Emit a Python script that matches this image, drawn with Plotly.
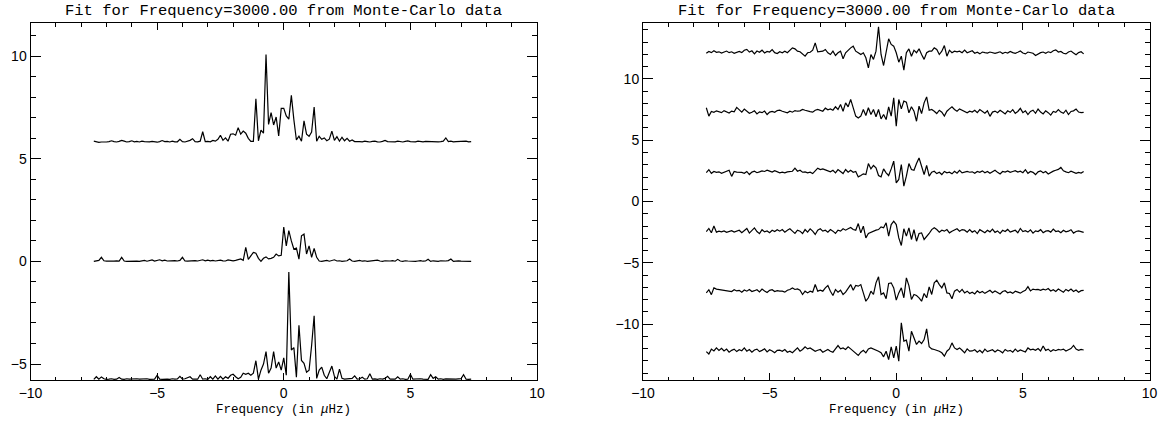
import plotly.graph_objects as go

# frequency grid (muHz)
freq = [round(-7.5 + 0.1 * k, 1) for k in range(150)]

left_top = [
    5.86, 5.83, 5.80, 5.82, 5.81, 5.82, 5.84, 5.88, 5.84, 5.82,
    5.85, 5.90, 5.86, 5.82, 5.84, 5.88, 5.83, 5.85, 5.82, 5.86,
    5.84, 5.82, 5.83, 5.85, 5.82, 5.81, 5.84, 5.89, 5.84, 5.85,
    5.82, 5.86, 5.83, 5.83, 5.95, 5.84, 5.82, 5.85, 5.90, 5.98,
    5.84, 5.83, 5.86, 6.32, 5.84, 5.85, 5.83, 5.90, 5.86, 5.95,
    6.15, 5.90, 6.02, 5.86, 6.20, 6.22, 6.15, 6.52, 6.20, 6.35,
    6.25, 6.00, 5.85, 5.85, 7.92, 5.88, 6.40, 6.25, 10.08, 6.68,
    7.25, 6.65, 7.04, 6.12, 7.46, 7.46, 7.09, 6.93, 8.09, 6.90,
    5.92, 6.10, 5.86, 6.85, 6.20, 6.10, 6.30, 7.52, 5.86, 6.10,
    5.95, 6.02, 5.88, 5.96, 6.35, 5.90, 6.08, 5.86, 6.05, 5.88,
    6.00, 5.86, 5.92, 5.84, 5.85, 5.84, 5.83, 5.86, 5.84, 5.82,
    5.85, 5.86, 5.83, 5.82, 5.85, 5.90, 5.84, 5.83, 5.82, 5.83,
    5.86, 5.84, 5.82, 5.85, 5.87, 5.84, 5.82, 5.83, 5.86, 5.84,
    5.83, 5.85, 5.84, 5.86, 5.82, 5.84, 5.83, 5.84, 5.86, 6.02,
    5.84, 5.86, 5.83, 5.84, 5.85, 5.83, 5.84, 5.86, 5.83, 5.84,
]

left_mid = [
    0.00, 0.02, 0.05, 0.20, 0.03, 0.01, 0.00, 0.02, 0.01, 0.03,
    0.02, 0.20, 0.02, 0.00, 0.01, 0.00, 0.02, 0.01, 0.00, 0.03,
    0.05, 0.01, 0.03, 0.07, 0.02, 0.05, 0.08, 0.03, 0.06, 0.02,
    0.03, 0.01, 0.04, 0.02, 0.05, 0.20, 0.02, 0.01, 0.03, 0.02,
    0.04, 0.02, 0.05, 0.08, 0.03, 0.06, 0.03, 0.05, 0.02, 0.04,
    0.06, 0.03, 0.02, 0.07, 0.05, 0.03, 0.05, 0.07, 0.12, 0.05,
    0.69, 0.10, 0.30, 0.44, 0.40, 0.15, 0.00, 0.15, 0.22, 0.12,
    0.15, 0.20, 0.36, 0.27, 0.30, 1.67, 0.76, 1.50, 1.00, 0.60,
    0.65, 0.11, 1.25, 1.33, 0.36, 0.76, 0.20, 0.63, 0.20, 0.02,
    0.00, 0.02, 0.05, 0.01, 0.03, 0.08, 0.02, 0.03, 0.00, 0.01,
    0.03, 0.12, 0.02, 0.00, 0.02, 0.05, 0.01, 0.03, 0.00, 0.02,
    0.01, 0.03, 0.06, 0.02, 0.00, 0.03, 0.01, 0.02, 0.04, 0.01,
    0.10, 0.02, 0.00, 0.03, 0.02, 0.01, 0.03, 0.00, 0.02, 0.04,
    0.01, 0.02, 0.10, 0.00, 0.03, 0.02, 0.00, 0.03, 0.01, 0.02,
    0.04, 0.12, 0.00, 0.02, 0.03, 0.01, 0.00, 0.02, 0.01, 0.00,
]

left_bot = [
    -5.75, -5.62, -5.74, -5.63, -5.72, -5.75, -5.74, -5.72, -5.75, -5.74,
    -5.66, -5.74, -5.75, -5.72, -5.74, -5.73, -5.75, -5.72, -5.74, -5.73,
    -5.74, -5.72, -5.75, -5.73, -5.74, -5.55, -5.74, -5.75, -5.73, -5.74,
    -5.75, -5.72, -5.74, -5.73, -5.60, -5.74, -5.72, -5.65, -5.62, -5.74,
    -5.73, -5.74, -5.52, -5.74, -5.72, -5.75, -5.62, -5.74, -5.58, -5.74,
    -5.60, -5.74, -5.62, -5.70, -5.55, -5.50, -5.62, -5.72, -5.65, -5.45,
    -5.50, -5.45, -5.55, -5.45, -4.84, -5.74, -5.30, -5.00, -4.40, -5.45,
    -5.20, -4.40, -5.20, -4.90, -5.30, -4.70, -5.55, -0.52, -4.32, -4.20,
    -5.64, -3.11, -4.83, -4.97, -5.40, -5.30, -4.10, -2.65, -5.70, -5.30,
    -5.15, -5.55, -5.72, -5.40, -5.10, -5.60, -5.74, -5.25, -5.70, -5.74,
    -5.73, -5.74, -5.70, -5.58, -5.74, -5.72, -5.65, -5.74, -5.72, -5.48,
    -5.74, -5.73, -5.75, -5.72, -5.74, -5.70, -5.60, -5.74, -5.73, -5.74,
    -5.62, -5.74, -5.72, -5.75, -5.74, -5.50, -5.74, -5.73, -5.75, -5.72,
    -5.74, -5.73, -5.75, -5.52, -5.70, -5.62, -5.74, -5.72, -5.75, -5.73,
    -5.74, -5.72, -5.75, -5.74, -5.73, -5.72, -5.52, -5.74, -5.75, -5.74,
]

right_1 = [
    12.10, 12.25, 12.15, 12.30, 12.18, 12.22, 12.12, 12.20, 12.28, 12.15,
    12.22, 12.10, 12.18, 12.25, 12.15, 12.35, 12.42, 12.20, 12.30, 12.05,
    12.28, 12.18, 12.35, 12.12, 12.25, 12.20, 12.40, 12.15, 12.08, 12.22,
    12.14, 12.27, 12.14, 12.35, 12.54, 12.46, 12.27, 12.22, 12.00, 11.86,
    12.14, 12.18, 12.35, 12.95, 12.22, 12.22, 12.27, 12.41, 12.14, 12.00,
    12.27, 11.92, 12.14, 12.27, 11.65, 12.14, 12.35, 12.54, 12.68, 12.27,
    12.14, 12.00, 12.14, 11.73, 10.91, 12.00, 11.60, 12.27, 14.26, 12.00,
    11.10, 12.14, 13.28, 12.82, 12.68, 12.14, 11.37, 11.86, 10.72, 12.14,
    12.46, 11.86, 12.35, 12.14, 12.46, 12.00, 11.60, 12.14, 12.27, 12.27,
    12.54, 12.41, 12.00, 12.27, 12.73, 11.86, 12.35, 12.14, 12.27, 12.22,
    12.27, 12.14, 12.35, 12.14, 12.22, 12.30, 12.10, 12.18, 12.05, 12.20,
    12.15, 12.12, 12.20, 12.18, 12.10, 12.15, 12.22, 12.08, 12.18, 12.12,
    12.25, 12.15, 12.10, 12.18, 12.28, 12.12, 12.05, 12.20, 12.15, 12.10,
    11.92, 12.05, 12.15, 12.20, 12.10, 12.22, 12.15, 12.30, 12.38, 12.20,
    12.25, 12.10, 12.05, 12.20, 12.28, 12.12, 11.98, 12.15, 12.22, 12.05,
]

right_2 = [
    7.65, 6.97, 7.35, 7.28, 7.40, 7.35, 7.25, 7.42, 7.30, 7.22,
    7.38, 7.32, 7.68, 7.45, 7.30, 7.55, 7.35, 7.20, 7.28, 7.40,
    7.15, 7.32, 7.25, 7.38, 7.10, 7.30, 7.35, 7.28, 7.42, 7.45,
    7.37, 7.29, 7.24, 7.37, 7.29, 7.42, 7.37, 7.40, 7.51, 7.45,
    7.37, 7.34, 7.29, 7.45, 7.51, 7.45, 7.37, 7.62, 7.48, 7.56,
    7.45, 7.73, 7.51, 7.92, 7.37, 8.05, 7.73, 8.33, 7.73, 6.97,
    6.82, 6.97, 7.51, 7.02, 7.65, 7.10, 7.51, 6.92, 7.51, 6.74,
    7.10, 6.69, 7.73, 6.97, 8.46, 6.15, 8.33, 7.56, 8.19, 8.11,
    7.24, 7.73, 7.37, 6.55, 7.78, 7.18, 8.05, 8.54, 7.45, 7.51,
    7.37, 7.18, 7.45, 7.29, 6.97, 7.37, 7.56, 7.73, 7.51, 7.37,
    7.56, 7.45, 7.37, 7.24, 7.37, 7.30, 7.45, 7.25, 7.50, 7.35,
    7.20, 7.40, 6.95, 7.30, 7.38, 7.25, 7.45, 7.30, 7.15, 7.40,
    7.28, 7.50, 7.20, 7.35, 7.60, 7.25, 7.40, 7.10, 7.35, 7.45,
    7.20, 7.55, 7.30, 7.15, 7.40, 7.25, 7.05, 7.35, 7.28, 7.50,
    7.30, 7.20, 7.45, 7.10, 7.35, 7.40, 7.55, 7.30, 7.25, 7.28,
]

right_3 = [
    2.35, 2.60, 2.30, 2.45, 2.38, 2.42, 2.30, 2.40, 2.50, 2.55,
    2.05, 2.45, 2.40, 2.42, 2.38, 2.30, 2.45, 2.20, 2.40, 2.48,
    2.35, 2.42, 2.50, 2.45, 2.55, 2.48, 2.40, 2.52, 2.45, 2.34,
    2.39, 2.34, 2.42, 2.45, 2.47, 2.72, 2.47, 2.55, 2.39, 2.42,
    2.34, 2.39, 2.28, 2.50, 2.72, 2.61, 2.66, 2.58, 2.47, 2.42,
    2.55, 2.34, 2.61, 2.42, 2.28, 2.61, 2.39, 2.55, 2.39, 2.45,
    2.01, 2.12, 2.26, 2.20, 3.10, 2.66, 2.94, 2.75, 2.12, 2.01,
    2.66, 2.34, 2.12, 2.66, 3.29, 1.52, 1.80, 3.02, 1.25, 2.07,
    3.10, 2.61, 2.55, 3.10, 3.56, 2.88, 2.20, 2.94, 2.07, 2.39,
    2.47, 2.28, 2.39, 2.20, 2.45, 2.34, 2.39, 2.26, 2.47, 2.31,
    2.55, 2.34, 2.39, 2.45, 2.39, 2.42, 2.30, 2.45, 2.38, 2.50,
    2.35, 2.45, 2.30, 2.42, 2.55, 2.38, 2.25, 2.45, 2.40, 2.50,
    2.38, 2.45, 2.52, 2.40, 2.48, 2.35, 2.60, 2.30, 2.45, 2.38,
    2.20, 2.42, 2.50, 2.35, 2.45, 2.25, 2.40, 2.48, 2.55, 2.62,
    2.78, 2.50, 2.42, 2.35, 2.48, 2.40, 2.30, 2.38, 2.32, 2.45,
]

right_4 = [
    -2.45, -2.20, -2.55, -2.00, -2.50, -2.42, -2.48, -2.40, -2.52, -2.45,
    -2.38, -2.50, -2.42, -2.35, -2.55, -2.40, -2.20, -2.58, -2.35, -2.15,
    -2.45, -2.62, -2.30, -2.48, -2.40, -2.55, -2.35, -2.45, -2.30, -2.42,
    -2.29, -2.50, -2.34, -2.23, -2.42, -2.61, -2.34, -2.42, -2.61, -2.29,
    -2.50, -2.23, -2.42, -2.69, -2.34, -2.23, -2.42, -2.34, -2.50, -2.29,
    -2.42, -2.61, -2.34, -2.42, -2.23, -2.34, -2.23, -2.12, -2.29, -2.34,
    -1.80, -2.56, -2.01, -2.97, -2.61, -2.50, -2.42, -2.34, -2.29, -2.07,
    -2.15, -1.74, -2.83, -1.88, -1.61, -1.88, -2.97, -3.59, -2.23, -2.83,
    -2.15, -3.10, -2.29, -3.24, -2.61, -2.56, -3.10, -2.88, -2.61, -2.29,
    -2.15, -2.29, -2.50, -2.34, -2.42, -2.29, -2.56, -2.42, -2.34, -2.23,
    -2.42, -2.29, -2.34, -2.50, -2.29, -2.50, -2.38, -2.62, -2.30, -2.45,
    -2.55, -2.35, -2.48, -2.25, -2.52, -2.40, -2.60, -2.35, -2.45, -2.28,
    -2.50, -2.42, -2.35, -2.55, -2.20, -2.45, -2.38, -2.50, -2.32, -2.58,
    -2.40, -2.45, -2.30, -2.55, -2.42, -2.38, -2.50, -2.25, -2.45, -2.40,
    -2.55, -2.35, -2.48, -2.42, -2.30, -2.58, -2.45, -2.40, -2.48, -2.52,
]

right_5 = [
    -7.45, -7.20, -7.60, -7.05, -7.15, -7.18, -7.20, -7.22, -7.30, -7.28,
    -7.35, -7.20, -7.30, -7.25, -7.40, -7.22, -7.32, -7.18, -7.35, -7.28,
    -7.20, -7.38, -7.15, -7.30, -7.42, -7.25, -7.20, -7.35, -7.28, -7.32,
    -7.32, -7.40, -7.24, -7.18, -7.05, -7.18, -7.13, -7.24, -7.59, -7.32,
    -7.46, -7.32, -7.40, -6.78, -7.32, -7.24, -7.32, -7.05, -6.86, -7.32,
    -7.67, -7.18, -7.40, -7.24, -7.59, -7.40, -7.05, -6.78, -7.24, -6.86,
    -6.91, -6.78, -7.46, -8.14, -7.86, -7.32, -7.59, -6.64, -6.15, -7.59,
    -7.46, -7.94, -6.69, -6.64, -7.05, -8.05, -7.46, -7.05, -7.86, -6.23,
    -6.86, -8.00, -7.59, -7.67, -7.86, -8.14, -7.51, -7.86, -6.97, -7.59,
    -6.64, -6.42, -6.78, -7.05, -6.64, -7.46, -7.51, -7.94, -7.32, -7.18,
    -7.40, -7.18, -7.46, -7.32, -7.51, -7.40, -7.55, -7.30, -7.45, -7.35,
    -7.50, -7.38, -7.25, -7.45, -7.30, -7.42, -7.55, -7.35, -7.28, -7.45,
    -7.38, -7.50, -7.32, -7.40, -7.48, -7.35, -7.25, -6.95, -7.30, -7.15,
    -7.20, -7.18, -7.25, -7.15, -7.22, -7.10, -7.30, -7.20, -7.35, -7.15,
    -7.25, -7.40, -7.18, -7.30, -7.15, -7.35, -7.22, -7.40, -7.28, -7.25,
]

right_6 = [
    -12.25, -12.45, -12.05, -12.20, -11.95, -12.15, -11.98, -12.20, -12.05, -12.30,
    -12.15, -12.05, -12.25, -12.10, -12.18, -11.95, -12.22, -12.08, -12.30, -12.12,
    -12.05, -12.25, -12.15, -12.02, -12.28, -12.10, -12.20, -12.35, -12.15, -12.14,
    -12.22, -12.08, -12.30, -12.22, -12.35, -12.14, -11.95, -12.22, -12.08, -11.86,
    -12.03, -11.95, -12.08, -12.22, -12.14, -12.08, -12.30, -12.22, -12.08, -12.22,
    -12.30, -12.03, -11.76, -12.03, -11.95, -12.08, -11.86, -12.03, -12.22, -12.35,
    -12.57, -12.30, -12.14, -12.35, -12.03, -11.95, -12.03, -12.14, -12.22, -12.35,
    -12.68, -12.22, -12.90, -11.86, -12.76, -11.81, -13.04, -9.90, -11.40, -11.32,
    -12.22, -10.59, -11.13, -11.67, -11.40, -11.59, -11.27, -10.40, -11.86, -12.03,
    -12.08, -12.14, -12.22, -12.35, -12.63, -12.22, -12.03, -11.54, -11.95, -12.08,
    -11.95, -12.14, -12.35, -12.03, -12.22, -12.20, -12.10, -12.30, -12.15, -12.35,
    -12.05, -12.25, -12.18, -12.10, -12.28, -12.12, -12.20, -12.35, -12.08, -12.22,
    -12.15, -12.30, -12.05, -12.25, -12.12, -12.18, -12.28, -11.95, -12.10, -12.05,
    -12.15, -12.00, -12.20, -11.80, -12.15, -12.05, -12.25, -12.10, -12.18, -12.08,
    -12.12, -12.05, -12.20, -12.10, -12.00, -11.75, -12.05, -12.15, -12.08, -12.12,
]

title_text = "Fit for Frequency=3000.00 from Monte-Carlo data"
xlabel_text = "Frequency (in <i>μ</i>Hz)"

W, H = 1163, 426
# panel boxes in pixels
L = (30.5, 537.0)
R = (643.0, 1149.5)
TOP, BOT = 23.0, 380.0

fig = go.Figure()
line = dict(color="black", width=1.2)
for y in (left_top, left_mid, left_bot):
    fig.add_trace(go.Scatter(x=freq, y=y, mode="lines", line=line,
                             xaxis="x", yaxis="y", showlegend=False, hoverinfo="skip"))
for y in (right_1, right_2, right_3, right_4, right_5, right_6):
    fig.add_trace(go.Scatter(x=freq, y=y, mode="lines", line=line,
                             xaxis="x2", yaxis="y2", showlegend=False, hoverinfo="skip"))

tickfont = dict(family="Liberation Sans", size=14, color="black")

def xax(domain, anchor):
    return dict(domain=domain, anchor=anchor, range=[-10, 10], dtick=5, tick0=0,
                ticks="inside", ticklen=7, tickwidth=1, tickcolor="black",
                minor=dict(dtick=1, ticks="inside", ticklen=3.5, tickwidth=1, tickcolor="black"),
                showline=True, linecolor="black", linewidth=1, mirror="allticks",
                showgrid=False, zeroline=False, tickfont=tickfont, automargin=False,
                ticklabeloverflow="allow")

def yax(domain, anchor, rng):
    return dict(domain=domain, anchor=anchor, range=rng, dtick=5, tick0=0,
                ticks="inside", ticklen=10, tickwidth=1, tickcolor="black",
                minor=dict(dtick=1, ticks="inside", ticklen=5, tickwidth=1, tickcolor="black"),
                showline=True, linecolor="black", linewidth=1, mirror="allticks",
                showgrid=False, zeroline=False, tickfont=tickfont, automargin=False,
                ticklabeloverflow="allow")

ydom = [1 - BOT / H, 1 - TOP / H]
fig.update_layout(
    width=W, height=H,
    margin=dict(l=0, r=0, t=0, b=0),
    paper_bgcolor="white", plot_bgcolor="white",
    xaxis=xax([L[0] / W, L[1] / W], "y"),
    yaxis=yax(ydom, "x", [-5.78, 11.62]),
    xaxis2=xax([R[0] / W, R[1] / W], "y2"),
    yaxis2=yax(ydom, "x2", [-14.57, 14.57]),
    showlegend=False,
)

annots = []
for (a, b) in (L, R):
    cx = (a + b) / 2 / W
    annots.append(dict(text=title_text, x=cx, y=1 - 11 / H, xref="paper", yref="paper",
                       xanchor="center", yanchor="middle", showarrow=False,
                       font=dict(family="Liberation Mono", size=15.5, color="black")))
    annots.append(dict(text=xlabel_text, x=cx, y=1 - 410 / H, xref="paper", yref="paper",
                       xanchor="center", yanchor="middle", showarrow=False,
                       font=dict(family="Liberation Mono", size=12.5, color="black")))
fig.update_layout(annotations=annots)

fig.write_html("out.html", config={"displayModeBar": False},
               post_script="document.body.style.margin='0';document.body.style.overflow='hidden';")
